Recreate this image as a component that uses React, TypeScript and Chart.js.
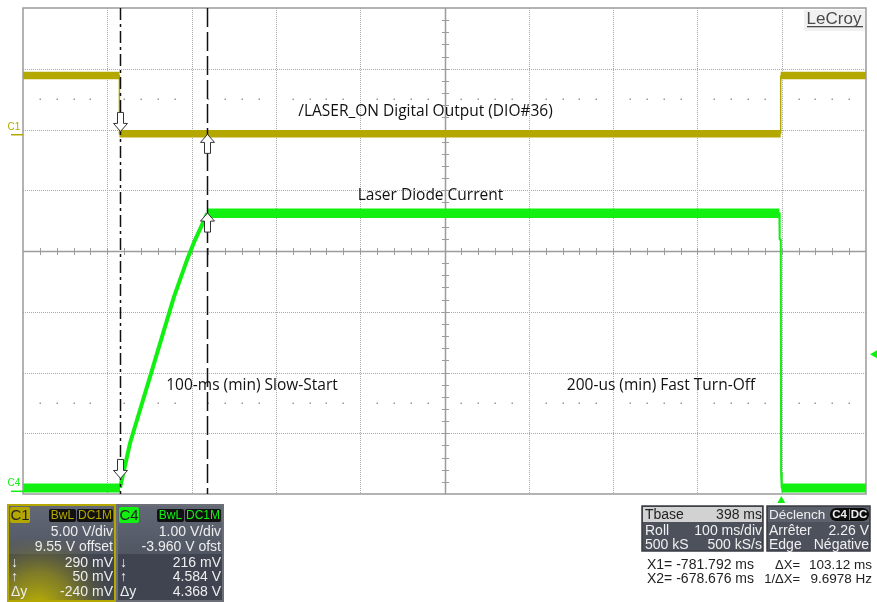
import React, { useEffect, useRef } from 'react';
import { Chart, registerables } from 'chart.js';

Chart.register(...registerables);

// ---- axes (time in ms, volts per channel) ----
const X_MIN = -897;
const X_MAX = 103;
const C1_MIN = -29.55; // 5 V/div, 9.55 V offset
const C1_MAX = 10.45;
const C4_MIN = -0.04; // 1 V/div, -3.960 V offset
const C4_MAX = 7.96;

// ---- C1 : /LASER_ON digital output (ms, V) ----
const c1HighBefore = [[-897, 4.9], [-782.6, 4.9]];
const c1Low = [[-782.6, 0.1], [1.8, 0.1]];
const c1HighAfter = [[1.8, 4.9], [103, 4.9]];
const c1FallEdge = [[-782.6, 4.9], [-782.6, 0.1]];
const c1RiseEdge = [[1.8, 0.1], [1.8, 4.9]];

// ---- C4 : laser diode current (ms, V) ----
const c4LowBefore = [[-897, 0.06], [-781.9, 0.06]];
const c4Ramp = [[-781.9, 0.06], [-770, 0.8], [-745, 1.95], [-718, 3.2], [-702.5, 3.81], [-693, 4.14], [-678.4, 4.58]];
const c4High = [[-678.4, 4.58], [0.2, 4.58]];
const c4Fall = [[0.2, 4.58], [0.6, 4.15], [1.9, 4.15], [2.3, 0.3], [3, 0.06]];
const c4LowAfter = [[2.6, 0.06], [103, 0.06]];

// ---- cursors / trigger ----
const cursorTimes = [-781.792, -678.676];
const c1CursorValues = [0.29, 0.05];
const c4CursorValues = [0.216, 4.584];
const triggerTime = 2.5;
const triggerLevel = 2.26;

// ---- labels ----
const annotations = [
  { text: '/LASER_ON Digital Output (DIO#36)', x: 425.5, y: 112 },
  { text: 'Laser Diode Current', x: 430.5, y: 196 },
  { text: '100-ms (min) Slow-Start', x: 252, y: 386 },
  { text: '200-us (min) Fast Turn-Off', x: 661, y: 386 },
];
const c1PanelRows = ['5.00 V/div', '9.55 V offset'];
const c1Meas = [['\u2193', '290 mV'], ['\u2191', '50 mV'], ['\u0394y', '-240 mV']];
const c4PanelRows = ['1.00 V/div', '-3.960 V ofst'];
const c4Meas = [['\u2193', '216 mV'], ['\u2191', '4.584 V'], ['\u0394y', '4.368 V']];
const tbaseRows = [['Roll', '100 ms/div'], ['500 kS', '500 kS/s']];
const trigRows = [['Arr\u00eater', '2.26 V'], ['Edge', 'N\u00e9gative']];
const cursorReadout = [
  ['X1=', '-781.792 ms', '\u0394X=', '103.12 ms'],
  ['X2=', '-678.676 ms', '1/\u0394X=', '9.6978 Hz'],
];

const YELLOW = '#b4a800';
const GREEN = '#12f012';
const SANS = '"Liberation Sans", Arial, sans-serif';

function pts(a: number[][]) {
  return a.map(([x, y]) => ({ x, y }));
}

function ds(data: number[][], color: string, width: number, axis: string) {
  return {
    data: pts(data),
    borderColor: color,
    backgroundColor: color,
    borderWidth: width,
    pointRadius: 0,
    tension: 0,
    fill: false,
    borderCapStyle: 'butt',
    borderJoinStyle: 'round',
    yAxisID: axis,
  } as any;
}

function arrow(ctx: CanvasRenderingContext2D, x: number, ty: number, down: boolean) {
  const s = down ? -1 : 1;
  ctx.beginPath();
  ctx.moveTo(x, ty);
  ctx.lineTo(x + 7, ty + s * 8);
  ctx.lineTo(x + 3, ty + s * 8);
  ctx.lineTo(x + 3, ty + s * 19);
  ctx.lineTo(x - 3, ty + s * 19);
  ctx.lineTo(x - 3, ty + s * 8);
  ctx.lineTo(x - 7, ty + s * 8);
  ctx.closePath();
  ctx.fillStyle = '#ffffff';
  ctx.fill();
  ctx.strokeStyle = '#333';
  ctx.lineWidth = 1;
  ctx.stroke();
}

function rr(ctx: CanvasRenderingContext2D, x: number, y: number, w: number, h: number, r: number, fill: string) {
  ctx.beginPath();
  (ctx as any).roundRect(x, y, w, h, r);
  ctx.fillStyle = fill;
  ctx.fill();
}

function txt(ctx: CanvasRenderingContext2D, s: string, x: number, y: number, align: CanvasTextAlign, color: string, size = 13, weight = 'normal') {
  ctx.font = `${weight} ${size}px ${SANS}`;
  ctx.textAlign = align;
  ctx.textBaseline = 'middle';
  ctx.fillStyle = color;
  ctx.fillText(s, x, y);
}

const gridPlugin = {
  id: 'scopeGrid',
  beforeDatasetsDraw(chart: any) {
    const { ctx, chartArea } = chart;
    const { left, top, right, bottom } = chartArea;
    const w = right - left;
    const h = bottom - top;
    const dx = w / 10;
    const dy = h / 8;
    ctx.save();
    ctx.fillStyle = '#ffffff';
    ctx.fillRect(left, top, w, h);
    // dotted graticule
    ctx.strokeStyle = '#a9a9a9';
    ctx.lineWidth = 1;
    ctx.setLineDash([1, 1]);
    for (let i = 1; i < 10; i++) {
      if (i === 5) continue;
      const x = Math.round(left + i * dx) + 0.5;
      ctx.beginPath();
      ctx.moveTo(x, top);
      ctx.lineTo(x, bottom);
      ctx.stroke();
    }
    for (let j = 1; j < 8; j++) {
      if (j === 4) continue;
      const y = Math.round(top + j * dy) + 0.5;
      ctx.beginPath();
      ctx.moveTo(left, y);
      ctx.lineTo(right, y);
      ctx.stroke();
    }
    ctx.setLineDash([]);
    // dot rows
    ctx.fillStyle = '#9a9a9a';
    [1.5, 6.5].forEach((r) => {
      const y = Math.round(top + r * dy);
      for (let k = 1; k < 50; k++) {
        if (k % 5 === 0) continue;
        const x = Math.round(left + (k * dx) / 5);
        ctx.fillRect(x - 0.5, y - 0.5, 1.5, 1.5);
      }
    });
    // center axes
    const cx = Math.round(left + 5 * dx) + 0.5;
    const cy = Math.round(top + 4 * dy) + 0.5;
    ctx.strokeStyle = '#9c9c9c';
    ctx.lineWidth = 1.5;
    ctx.beginPath();
    ctx.moveTo(left, cy);
    ctx.lineTo(right, cy);
    ctx.moveTo(cx, top);
    ctx.lineTo(cx, bottom);
    ctx.stroke();
    ctx.lineWidth = 1;
    ctx.beginPath();
    for (let k = 1; k < 50; k++) {
      const x = Math.round(left + (k * dx) / 5) + 0.5;
      ctx.moveTo(x, cy - 3.5);
      ctx.lineTo(x, cy + 3.5);
    }
    for (let k = 1; k < 40; k++) {
      const y = Math.round(top + (k * dy) / 5) + 0.5;
      ctx.moveTo(cx - 3.5, y);
      ctx.lineTo(cx + 3.5, y);
    }
    ctx.stroke();
    // LeCroy logo
    ctx.fillStyle = '#f1f1f1';
    ctx.fillRect(right - 62, top + 2, 61, 21);
    txt(ctx, 'LeCroy', right - 32, top + 11, 'center', '#4a4a4a', 17);
    ctx.fillStyle = '#4a4a4a';
    ctx.fillRect(right - 59, top + 18, 56, 1.3);
    ctx.restore();
  },
  afterDatasetsDraw(chart: any) {
    const { ctx, chartArea, scales } = chart;
    const { left, top, right, bottom } = chartArea;
    const xs = scales.x;
    const y1 = scales.y1;
    const y4 = scales.y4;
    ctx.save();
    // border
    ctx.strokeStyle = '#9a9a9a';
    ctx.lineWidth = 1.5;
    ctx.strokeRect(left, top, right - left, bottom - top);
    // cursors
    const dashes = [[12, 4, 3, 4], [19, 5]];
    cursorTimes.forEach((t, i) => {
      const x = Math.round(xs.getPixelForValue(t)) + 0.5;
      ctx.strokeStyle = '#111';
      ctx.lineWidth = 1.5;
      ctx.setLineDash(dashes[i]);
      ctx.beginPath();
      ctx.moveTo(x, top);
      ctx.lineTo(x, bottom);
      ctx.stroke();
    });
    ctx.setLineDash([]);
    cursorTimes.forEach((t, i) => {
      const x = Math.round(xs.getPixelForValue(t)) + 0.5;
      arrow(ctx, x, y1.getPixelForValue(c1CursorValues[i]), i === 0);
      arrow(ctx, x, y4.getPixelForValue(c4CursorValues[i]), i === 0);
    });
    // annotations
    annotations.forEach((a) => {
      ctx.font = `15.5px "Open Sans", sans-serif`;
      ctx.textAlign = 'center';
      ctx.textBaseline = 'middle';
      ctx.fillStyle = '#111';
      ctx.fillText(a.text, a.x, a.y);
    });
    ctx.restore();
  },
  afterDraw(chart: any) {
    const { ctx, chartArea, scales } = chart;
    const { left, bottom, right } = chartArea;
    const xs = scales.x;
    const y1 = scales.y1;
    const y4 = scales.y4;
    ctx.save();
    // channel ground markers
    const g1 = y1.getPixelForValue(0);
    const g4 = y4.getPixelForValue(0);
    txt(ctx, 'C1', 14, g1 - 8, 'center', YELLOW, 10);
    ctx.fillStyle = YELLOW;
    ctx.fillRect(11, g1 - 1, left - 11, 1.5);
    txt(ctx, 'C4', 14, g4 - 8, 'center', GREEN, 10);
    ctx.fillStyle = GREEN;
    ctx.fillRect(11, g4 - 1, left - 11, 1.5);
    // trigger markers
    const tx = xs.getPixelForValue(triggerTime);
    ctx.fillStyle = GREEN;
    ctx.beginPath();
    ctx.moveTo(tx, bottom + 2);
    ctx.lineTo(tx + 4, bottom + 9);
    ctx.lineTo(tx - 4, bottom + 9);
    ctx.closePath();
    ctx.fill();
    const ty = y4.getPixelForValue(triggerLevel);
    ctx.beginPath();
    ctx.moveTo(right + 4, ty);
    ctx.lineTo(right + 11, ty - 4);
    ctx.lineTo(right + 11, ty + 4);
    ctx.closePath();
    ctx.fill();

    // ---- channel panels ----
    const panel = (x: number, w: number, chColor: string, name: string, rows: string[], meas: string[][], glow: boolean, border: string) => {
      const y0 = 505;
      const h = 96;
      const g = ctx.createLinearGradient(0, y0, 0, y0 + 50);
      g.addColorStop(0, '#636876');
      g.addColorStop(1, '#515663');
      ctx.fillStyle = g;
      ctx.fillRect(x, y0, w, 49);
      ctx.fillStyle = '#3f4450';
      ctx.fillRect(x, y0 + 49, w, h - 49);
      if (glow) {
        const rg = ctx.createRadialGradient(x + 30, y0 + h + 8, 2, x + 30, y0 + h + 8, 80);
        rg.addColorStop(0, 'rgba(190,180,0,1)');
        rg.addColorStop(0.45, 'rgba(160,152,20,0.65)');
        rg.addColorStop(1, 'rgba(90,90,70,0)');
        ctx.fillStyle = rg;
        ctx.fillRect(x, y0 + 35, w, h - 35);
      }
      ctx.strokeStyle = border;
      ctx.lineWidth = 2;
      ctx.strokeRect(x, y0, w, h);
      rr(ctx, x + 2, y0 + 2, 20, 16, 2, chColor);
      txt(ctx, name, x + 12, y0 + 10.5, 'center', '#222', 15);
      rr(ctx, x + w - 66, y0 + 4, 27, 13, 2, '#111');
      txt(ctx, 'BwL', x + w - 52.5, y0 + 10.5, 'center', chColor, 12);
      rr(ctx, x + w - 38, y0 + 4, 36, 13, 2, '#111');
      txt(ctx, 'DC1M', x + w - 20, y0 + 10.5, 'center', chColor, 12);
      rows.forEach((r, i) => txt(ctx, r, x + w - 2, y0 + 27 + i * 15, 'right', '#eeeeee', 14));
      meas.forEach((m, i) => {
        txt(ctx, m[0], x + 3, y0 + 58 + i * 14.5, 'left', '#eeeeee', 14);
        txt(ctx, m[1], x + w - 2, y0 + 58 + i * 14.5, 'right', '#eeeeee', 14);
      });
    };
    panel(8, 107, YELLOW, 'C1', c1PanelRows, c1Meas, true, YELLOW);
    panel(117, 106, GREEN, 'C4', c4PanelRows, c4Meas, false, '#6c6f78');

    // ---- timebase panel ----
    const py = 506;
    ctx.fillStyle = '#4c515c';
    ctx.fillRect(642, py, 121, 45);
    ctx.fillStyle = '#d2d2d2';
    ctx.fillRect(643, py + 1, 119, 15);
    ctx.strokeStyle = '#3a3d44';
    ctx.lineWidth = 1.5;
    ctx.strokeRect(642, py, 121, 45);
    txt(ctx, 'Tbase', 645, py + 9, 'left', '#222', 14);
    txt(ctx, '398 ms', 762, py + 9, 'right', '#222', 14);
    tbaseRows.forEach((r, i) => {
      txt(ctx, r[0], 645, py + 25 + i * 14.5, 'left', '#f0f0f0', 14);
      txt(ctx, r[1], 762, py + 25 + i * 14.5, 'right', '#f0f0f0', 14);
    });
    // ---- trigger panel ----
    ctx.fillStyle = '#4c515c';
    ctx.fillRect(767, py, 103, 45);
    ctx.fillStyle = '#5b606b';
    ctx.fillRect(768, py + 1, 101, 15);
    ctx.strokeStyle = '#3a3d44';
    ctx.strokeRect(767, py, 103, 45);
    txt(ctx, 'D\u00e9clench', 769, py + 9, 'left', '#f0f0f0', 13.5);
    rr(ctx, 830, py + 2, 39, 13, 6, '#0c0c0c');
    txt(ctx, 'C4', 839.5, py + 9, 'center', '#f0f0f0', 11.5, 'bold');
    txt(ctx, 'DC', 859, py + 9, 'center', '#f0f0f0', 11.5, 'bold');
    ctx.fillStyle = '#888';
    ctx.fillRect(849, py + 3, 1, 11);
    trigRows.forEach((r, i) => {
      txt(ctx, r[0], 769, py + 25 + i * 14.5, 'left', '#f0f0f0', 14);
      txt(ctx, r[1], 869, py + 25 + i * 14.5, 'right', '#f0f0f0', 14);
    });
    // ---- cursor readout ----
    cursorReadout.forEach((r, i) => {
      const y = 565 + i * 14;
      txt(ctx, r[0], 647, y, 'left', '#222', 14);
      txt(ctx, r[1], 754, y, 'right', '#222', 14);
      txt(ctx, r[2], 800, y, 'right', '#222', 13);
      txt(ctx, r[3], 872, y, 'right', '#222', 13.5);
    });
    ctx.restore();
  },
};

export default function App() {
  const ref = useRef<HTMLCanvasElement | null>(null);
  useEffect(() => {
    if (!ref.current) return;
    const chart = new Chart(ref.current, {
      type: 'line',
      data: {
        datasets: [
          ds(c1HighBefore, YELLOW, 7.5, 'y1'),
          ds(c1Low, YELLOW, 7.5, 'y1'),
          ds(c1HighAfter, YELLOW, 7.5, 'y1'),
          ds(c1FallEdge, YELLOW, 1.5, 'y1'),
          ds(c1RiseEdge, YELLOW, 1.5, 'y1'),
          ds(c4LowBefore, GREEN, 9, 'y4'),
          ds(c4Ramp, GREEN, 4, 'y4'),
          ds(c4High, GREEN, 9.5, 'y4'),
          ds(c4Fall, GREEN, 2, 'y4'),
          ds(c4LowAfter, GREEN, 9, 'y4'),
        ],
      },
      options: {
        responsive: false,
        animation: false,
        events: [],
        parsing: false,
        normalized: true,
        layout: { padding: { left: 23, top: 8, right: 11, bottom: 108 } },
        plugins: { legend: { display: false }, tooltip: { enabled: false } },
        scales: {
          x: { type: 'linear', min: X_MIN, max: X_MAX, display: false },
          y1: { type: 'linear', min: C1_MIN, max: C1_MAX, display: false },
          y4: { type: 'linear', min: C4_MIN, max: C4_MAX, display: false },
        },
      } as any,
      plugins: [gridPlugin],
    });
    return () => chart.destroy();
  }, []);
  return (
    <div style={{ position: 'fixed', left: 0, top: 0, width: 877, height: 602, background: '#ffffff' }}>
      <canvas ref={ref} width={877} height={602} style={{ display: 'block' }} />
    </div>
  );
}
